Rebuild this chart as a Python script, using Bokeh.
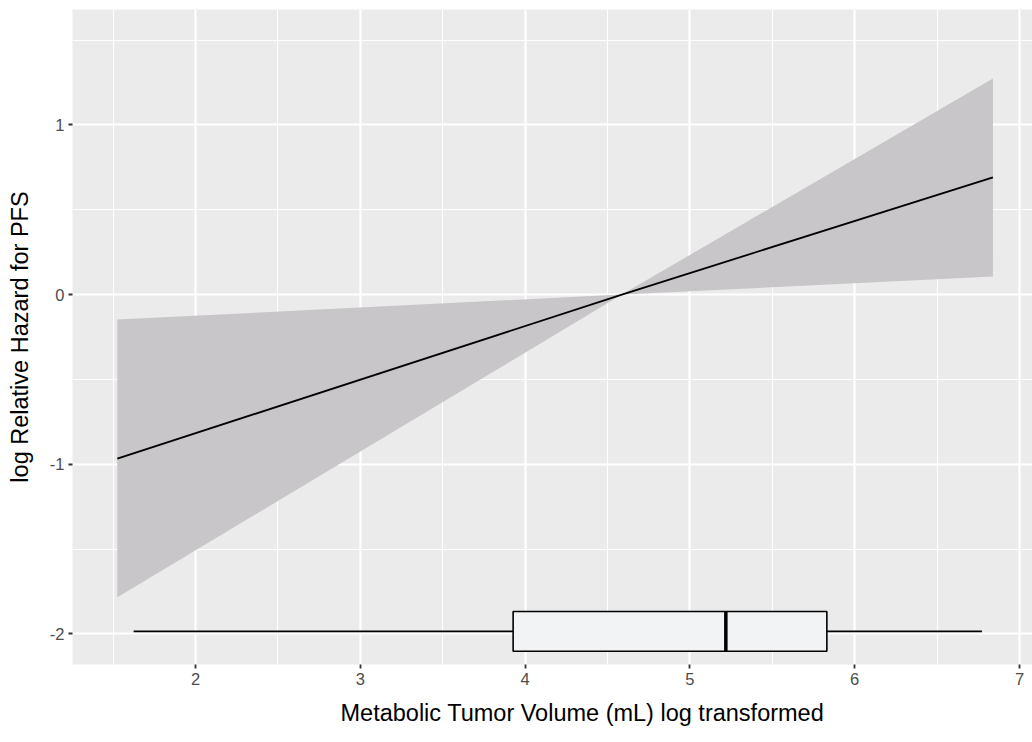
from bokeh.plotting import figure
from bokeh.models import FixedTicker, ColumnDataSource, CustomJSTickFormatter, Title
from bokeh.embed import file_html
from bokeh.resources import INLINE

# ---- data ----
x_curve = [1.525, 4.587, 6.839]
y_fit = [-0.967, 0.0, 0.691]
y_upper = [-0.147, 0.0, 1.273]
y_lower = [-1.784, 0.0, 0.106]

# boxplot of log-transformed MTV
box_min = 1.624
box_q1 = 3.927
box_median = 5.218
box_q3 = 5.831
box_max = 6.772

x_ticks = [2, 3, 4, 5, 6, 7]
x_minor = [1.5, 2.5, 3.5, 4.5, 5.5, 6.5]
y_ticks = [-2, -1, 0, 1]
y_minor = [-1.5, -0.5, 0.5, 1.5]

x_title = "Metabolic Tumor Volume (mL) log transformed"
y_title = "log Relative Hazard for PFS"

# ---- layout constants ----
BOX_Y = -1.985
BOX_HALF = 0.117
FONT = "Liberation Sans"

p = figure(width=1032, height=742, output_backend="svg", toolbar_location=None,
           x_range=(1.253, 7.079), y_range=(-2.18, 1.68),
           min_border_left=72, min_border_right=0, min_border_top=9, min_border_bottom=78)
p.background_fill_color = "#EBEBEB"
p.border_fill_color = "white"
p.outline_line_color = None

for g in (p.xgrid[0], p.ygrid[0]):
    g.grid_line_color = "white"
    g.grid_line_width = 2.2
    g.minor_grid_line_color = "white"
    g.minor_grid_line_width = 1.1

p.xaxis.ticker = FixedTicker(ticks=x_ticks, minor_ticks=x_minor)
p.yaxis.ticker = FixedTicker(ticks=y_ticks, minor_ticks=y_minor)

fmt = "return tick.toFixed(0);"
for ax in (p.xaxis[0], p.yaxis[0]):
    ax.formatter = CustomJSTickFormatter(code=fmt)
    ax.axis_line_color = None
    ax.major_tick_line_color = "#333333"
    ax.major_tick_line_width = 1.8
    ax.major_tick_out = 4
    ax.major_tick_in = 0
    ax.minor_tick_line_color = None
    ax.major_label_text_color = "#4D4D4D"
    ax.major_label_text_font = FONT
    ax.major_label_text_font_size = "16.5px"
    ax.major_label_standoff = 4
    ax.axis_label_text_font = FONT
    ax.axis_label_text_font_size = "23.5px"
    ax.axis_label_text_font_style = "normal"
    ax.axis_label_text_color = "black"

p.yaxis.axis_label = y_title
p.yaxis.axis_label_standoff = 14

# x title: placed as a below-title so its left edge matches the reference
p.add_layout(Title(text=x_title, align="left", offset=268, standoff=20,
                   text_font=FONT, text_font_size="23.5px", text_font_style="normal",
                   text_color="black"), "below")

src = ColumnDataSource(dict(x=x_curve, fit=y_fit, lo=y_lower, hi=y_upper))
p.varea(x="x", y1="lo", y2="hi", source=src, fill_color="#C8C6C8", fill_alpha=1.0)
p.line(x="x", y="fit", source=src, line_color="black", line_width=1.8)

# boxplot
p.segment(x0=[box_min, box_q3], y0=[BOX_Y, BOX_Y], x1=[box_q1, box_max], y1=[BOX_Y, BOX_Y],
          line_color="black", line_width=1.6)
p.quad(left=[box_q1], right=[box_q3], bottom=[BOX_Y - BOX_HALF], top=[BOX_Y + BOX_HALF],
       fill_color="#F2F3F5", line_color="black", line_width=1.6)
p.segment(x0=[box_median], y0=[BOX_Y - BOX_HALF], x1=[box_median], y1=[BOX_Y + BOX_HALF],
          line_color="black", line_width=3.5)

open("out.html", "w").write(file_html(p, INLINE))
